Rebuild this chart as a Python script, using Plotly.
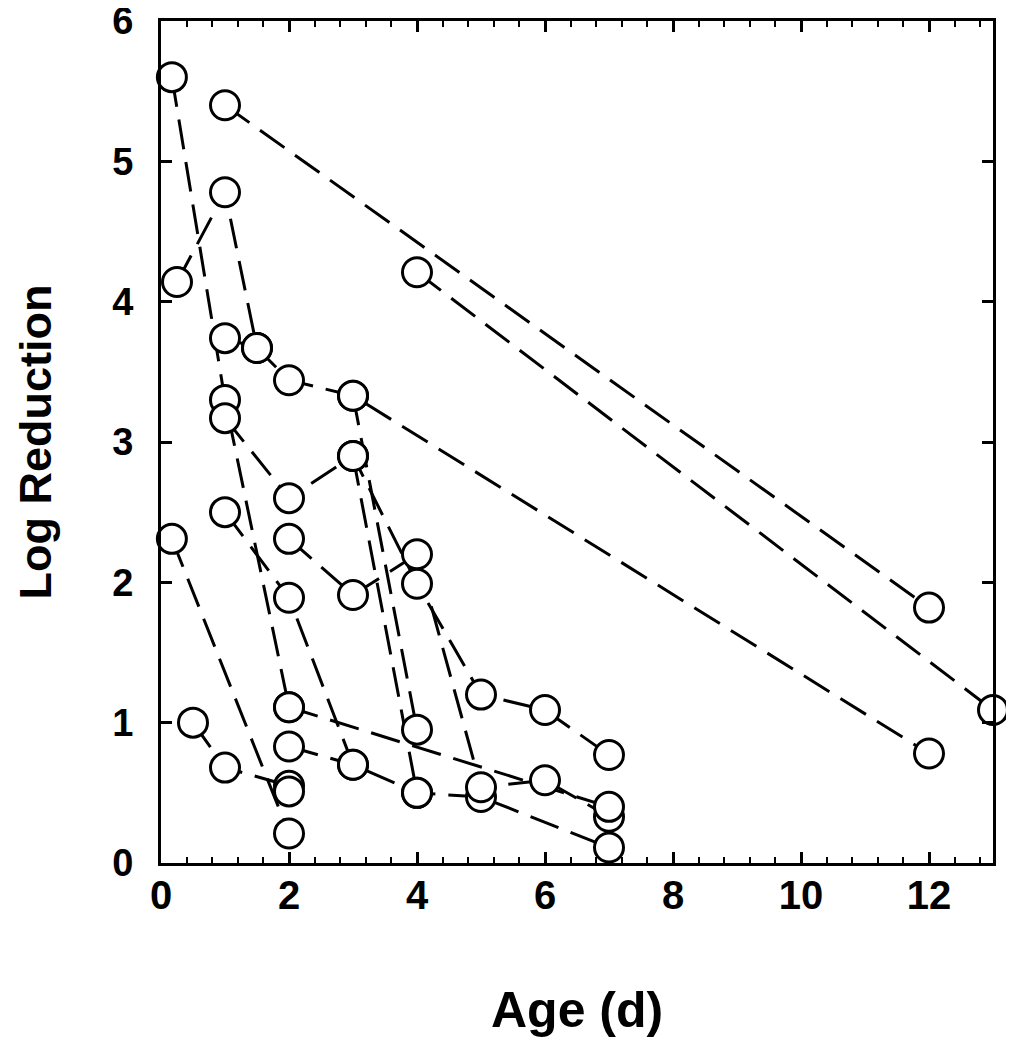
import plotly.graph_objects as go

# ---- data (Age in days, Log Reduction) ----
sA_age = [1, 12];                 sA_lr = [5.40, 1.82]
sB_age = [4, 13];                 sB_lr = [4.21, 1.09]
sC_age = [0.25, 1, 1.5, 2, 3, 12]; sC_lr = [4.14, 4.78, 3.67, 3.44, 3.33, 0.78]
sD_age = [0.17, 1, 2];            sD_lr = [5.60, 3.30, 1.11]
sE_age = [1, 2, 3, 4, 5, 6, 7];   sE_lr = [3.17, 2.60, 2.90, 1.99, 1.20, 1.09, 0.77]
sF_age = [1, 2, 3, 4, 5, 7];      sF_lr = [2.50, 1.89, 0.70, 0.50, 0.47, 0.11]
sG_age = [0.17, 2];               sG_lr = [2.31, 0.21]
sH_age = [0.5, 1, 2];             sH_lr = [1.00, 0.68, 0.55]
sI_age = [2, 3, 4, 5, 6, 7];      sI_lr = [2.31, 1.91, 2.20, 0.54, 0.59, 0.33]
sJ_age = [2, 7];                  sJ_lr = [1.11, 0.40]
sK_age = [2, 3];                  sK_lr = [0.83, 0.70]
sL_age = [3, 4];                  sL_lr = [2.90, 0.50]
sM_age = [3, 4];                  sM_lr = [3.33, 0.95]
sN_age = [1, 1.5];                sN_lr = [3.74, 3.67]
sX_age = [2];                     sX_lr = [0.51]

series = [(sA_age, sA_lr), (sB_age, sB_lr), (sC_age, sC_lr), (sD_age, sD_lr),
          (sE_age, sE_lr), (sF_age, sF_lr), (sG_age, sG_lr), (sH_age, sH_lr),
          (sI_age, sI_lr), (sJ_age, sJ_lr), (sK_age, sK_lr), (sL_age, sL_lr),
          (sM_age, sM_lr), (sN_age, sN_lr), (sX_age, sX_lr)]

x_ticks = [0, 2, 4, 6, 8, 10, 12]
y_ticks = [0, 1, 2, 3, 4, 5, 6]

FONT = "Liberation Sans, Arial, Helvetica, sans-serif"

fig = go.Figure()
for ax, ay in series:
    if len(ax) > 1:
        fig.add_trace(go.Scatter(x=ax, y=ay, mode="lines",
                                 line=dict(color="black", width=3, dash="30px,13px"),
                                 cliponaxis=False, showlegend=False, hoverinfo="skip"))

all_x = [v for ax, ay in series for v in ax]
all_y = [v for ax, ay in series for v in ay]
fig.add_trace(go.Scatter(x=all_x, y=all_y, mode="markers",
                         marker=dict(symbol="circle", size=29, color="white",
                                     line=dict(color="black", width=3)),
                         cliponaxis=False, showlegend=False))

fig.update_xaxes(range=[0, 13], tickvals=x_ticks, ticks="inside", ticklen=11, tickwidth=2.5,
                 tickcolor="black", minor=dict(tick0=0, dtick=0.4, ticks="inside", ticklen=6,
                                               tickwidth=2, tickcolor="black"),
                 showline=True, linewidth=3, linecolor="black", mirror="ticks",
                 showgrid=False, zeroline=False, ticklabeloverflow="allow", automargin=False,
                 tickfont=dict(family=FONT, size=40, color="black", weight="bold"),
                 ticklabelstandoff=-5)
fig.update_yaxes(range=[0, 6], tickvals=y_ticks, ticks="inside", ticklen=11, tickwidth=2.5,
                 tickcolor="black", showline=True, linewidth=3, linecolor="black", mirror="ticks",
                 showgrid=False, zeroline=False, ticklabeloverflow="allow", automargin=False,
                 tickfont=dict(family=FONT, size=38, color="black", weight="bold"),
                 ticklabelstandoff=17)

fig.add_annotation(text="Log Reduction", xref="paper", yref="paper", x=-0.152, y=0.5,
                   xanchor="center", yanchor="middle", textangle=-90, showarrow=False,
                   font=dict(family=FONT, size=45, color="black", weight="bold"))
fig.add_annotation(text="Age (d)", xref="paper", yref="paper", x=0.5, y=-0.175,
                   xanchor="center", yanchor="middle", showarrow=False,
                   font=dict(family=FONT, size=50, color="black", weight="bold"))

# page body adds an 8px margin; sizes chosen so the plot area sits at x 161-993, y 21-863
fig.update_layout(width=998, height=1034, margin=dict(l=153, r=13, t=13, b=179),
                  plot_bgcolor="white", paper_bgcolor="white")

fig.write_html("out.html")
